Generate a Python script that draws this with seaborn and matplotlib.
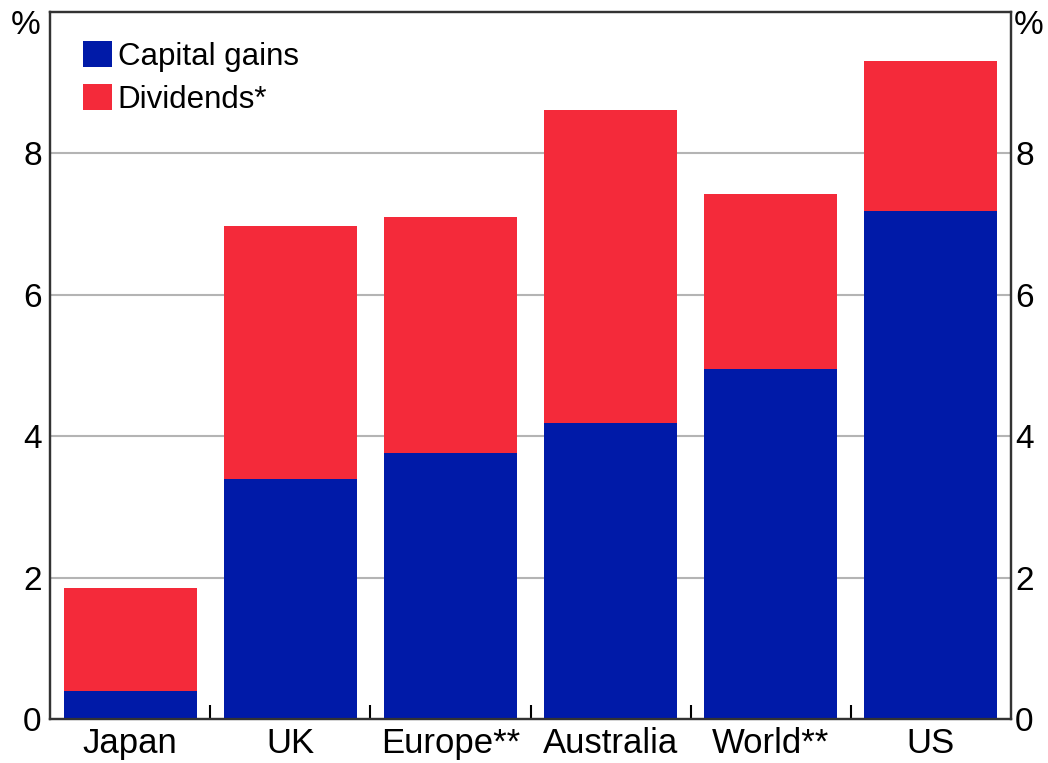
import matplotlib
matplotlib.use("Agg")
import matplotlib.pyplot as plt
import seaborn as sns
import pandas as pd
import numpy as np
from matplotlib.patches import Patch
from matplotlib.ticker import FixedLocator

categories = ["Japan", "UK", "Europe**", "Australia", "World**", "US"]
capital_gains = [0.40, 3.39, 3.76, 4.18, 4.95, 7.19]
dividends = [1.45, 3.59, 3.34, 4.43, 2.48, 2.11]
y_ticks = [0, 2, 4, 6, 8]

BLUE = "#001AA8"
RED = "#F42A3A"

sns.set_theme(style="white")
plt.rcParams["font.family"] = ["Liberation Sans", "DejaVu Sans"]
plt.rcParams["text.color"] = "black"

df = pd.DataFrame({
    "category": categories,
    "capital": capital_gains,
    "total": np.array(capital_gains) + np.array(dividends),
})

W, H = 1048, 763
fig = plt.figure(figsize=(W / 100, H / 100), dpi=100)
ax = fig.add_axes([50 / W, 1 - 719 / H, 961 / W, 707 / H])

sns.barplot(data=df, x="category", y="total", color=RED, width=0.83,
            saturation=1, ax=ax, zorder=2, linewidth=0)
sns.barplot(data=df, x="category", y="capital", color=BLUE, width=0.83,
            saturation=1, ax=ax, zorder=3, linewidth=0)

ax.set_xlim(-0.5, len(categories) - 0.5)
ax.set_ylim(0, 10)
ax.set_xlabel("")
ax.set_ylabel("")

for y in y_ticks[1:]:
    ax.axhline(y, color="#b4b4b4", linewidth=1.5, zorder=1)

ax.set_yticks(y_ticks)
ax.tick_params(axis="y", length=0, labelsize=24, pad=6, labelcolor="black",
               left=False, right=False, labelleft=True, labelright=False)
ax.tick_params(axis="x", which="major", length=0, labelsize=25, pad=6,
               labelcolor="black")
ax.xaxis.set_minor_locator(FixedLocator(np.arange(0.5, len(categories) - 0.5, 1)))
ax.tick_params(axis="x", which="minor", direction="in", length=10, width=1.5,
               color="black", bottom=True)

ax2 = ax.twinx()
ax2.set_ylim(0, 10)
ax2.set_yticks(y_ticks)
ax2.tick_params(axis="y", length=0, labelsize=24, pad=3, right=False,
                labelright=True, labelcolor="black")
ax2.grid(False)

for a in (ax, ax2):
    for s in a.spines.values():
        s.set_color("#333333")
        s.set_linewidth(1.6)

fig.text(25.5 / W, 1 - 26 / H, "%", ha="center", va="center", fontsize=24,
         color="black")
fig.text(1029 / W, 1 - 26 / H, "%", ha="center", va="center", fontsize=24,
         color="black")

handles = [Patch(facecolor=BLUE, edgecolor="none", label="Capital gains"),
           Patch(facecolor=RED, edgecolor="none", label="Dividends*")]
leg = ax.legend(handles=handles, loc="upper left", bbox_to_anchor=(0.012, 0.99),
                frameon=False, fontsize=22.5, handlelength=0.9, handleheight=0.9,
                handletextpad=0.2, labelspacing=0.4, borderaxespad=0.3)
for t in leg.get_texts():
    t.set_color("black")

fig.savefig("out.png", dpi=100)
